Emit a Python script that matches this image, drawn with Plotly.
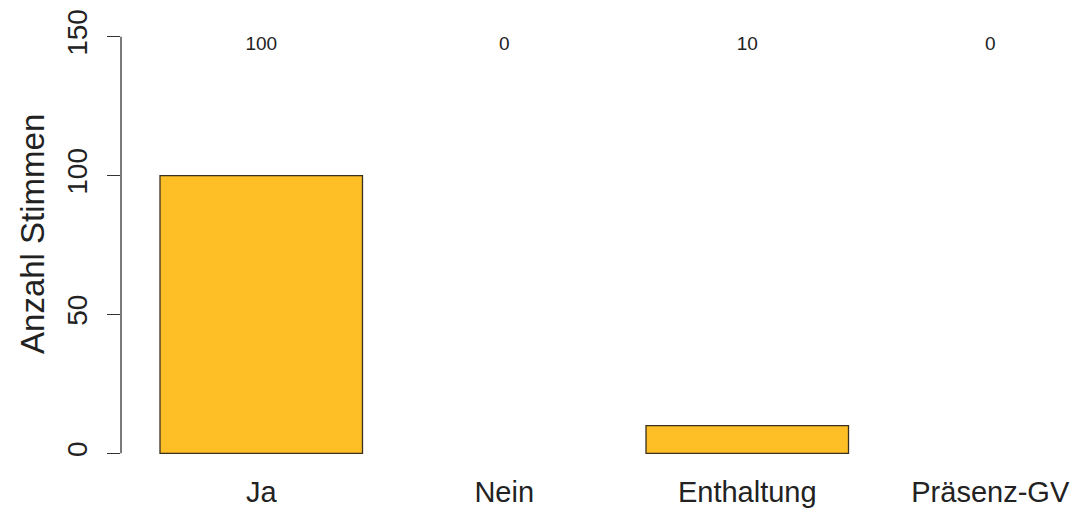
import plotly.graph_objects as go

categories = ["Ja", "Nein", "Enthaltung", "Präsenz-GV"]
votes = [100, 0, 10, 0]
bar_centers = [0.7, 1.9, 3.1, 4.3]
y_ticks = [0, 50, 100, 150]
y_title = "Anzahl Stimmen"

label_y = 147
font = "Liberation Sans, Arial, sans-serif"

fig = go.Figure()
fig.add_trace(go.Bar(
    x=bar_centers, y=votes, width=1.0,
    marker=dict(color="#FDBE26",
                line=dict(color="#3a3020", width=[1.3 if v else 0 for v in votes])),
    hoverinfo="skip", showlegend=False,
))
fig.add_trace(go.Scatter(
    x=bar_centers, y=[label_y] * len(votes), mode="text",
    text=[str(v) for v in votes],
    textfont=dict(family=font, size=19, color="#222"),
    hoverinfo="skip", showlegend=False,
))
fig.add_shape(type="line", xref="paper", yref="y", x0=0, x1=0,
              y0=min(y_ticks), y1=max(y_ticks),
              line=dict(color="#333", width=1.3))
fig.add_annotation(text=y_title, xref="paper", yref="paper", x=-0.092, y=0.525,
                   xanchor="center", yanchor="middle", textangle=-90,
                   showarrow=False, font=dict(family=font, size=33, color="#222"))

fig.update_layout(
    width=1075, height=509,
    margin=dict(l=121, r=0, t=20, b=39),
    paper_bgcolor="white", plot_bgcolor="white",
    xaxis=dict(range=[0.0074, 4.7185], tickvals=bar_centers, ticktext=categories,
               showgrid=False, zeroline=False, showline=False, ticks="",
               automargin=False, ticklabelstandoff=2,
               tickfont=dict(family=font, size=29, color="#222")),
    yaxis=dict(range=[-6, 156], tickvals=y_ticks, showgrid=False, zeroline=False,
               showline=False, ticks="outside", ticklen=13, tickwidth=1.3,
               tickcolor="#333", tickangle=-90, ticklabelstandoff=9,
               automargin=False,
               tickfont=dict(family=font, size=28, color="#222")),
)
fig.write_html("out.html", config={"displayModeBar": False},
               post_script="document.body.style.margin='0';")
